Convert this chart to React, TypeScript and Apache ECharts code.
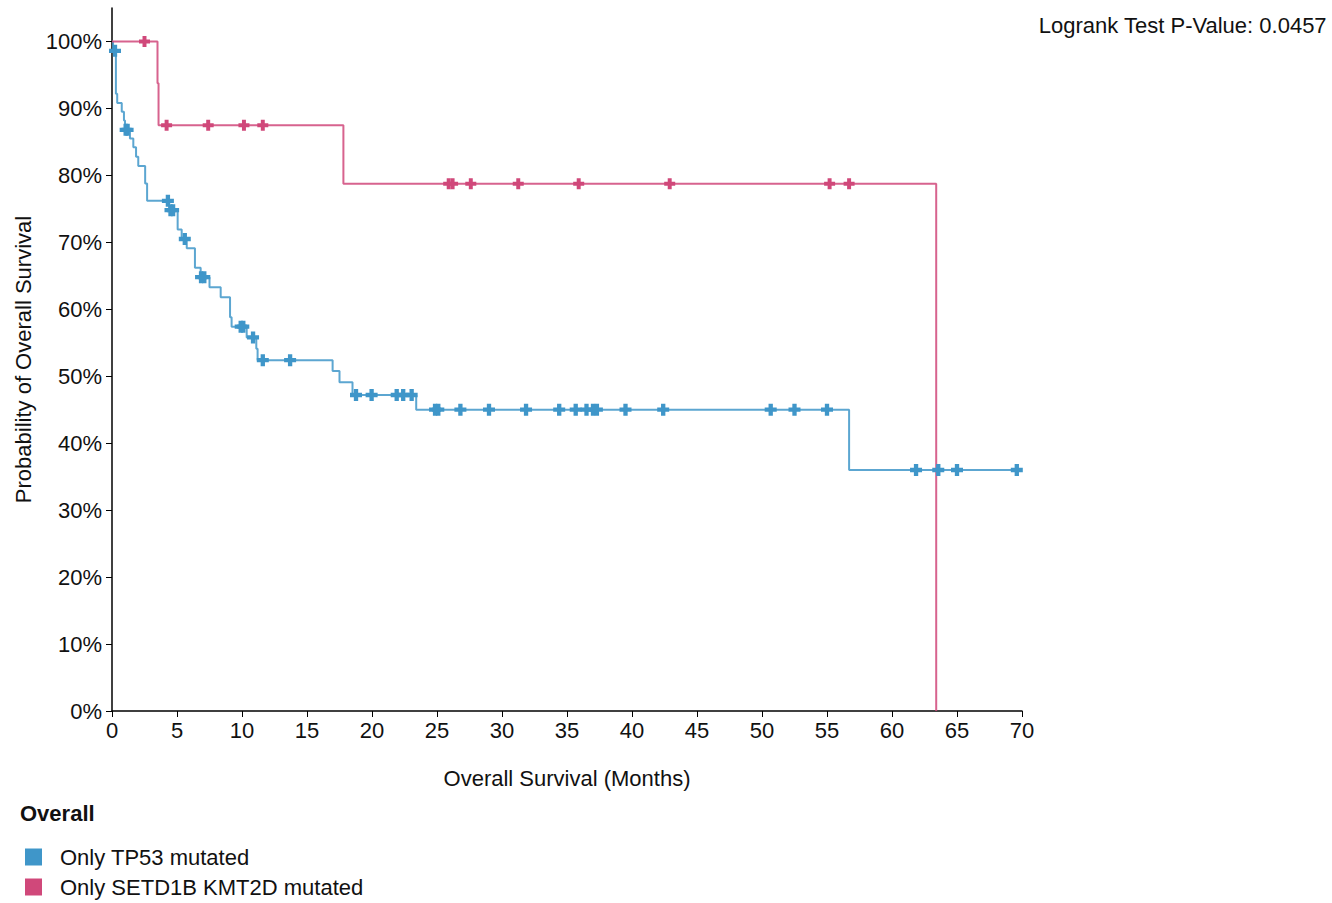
import React, { useEffect, useRef } from "react";
import * as echarts from "echarts";

const seriesNames = ["Only TP53 mutated", "Only SETD1B KMT2D mutated"];
const seriesColors = ["#3f96c9", "#d0487a"];

// Kaplan-Meier steps: [months, survival %] (value holds from that time on)
const tp53Steps: [number, number][] = [
  [0, 100], [0.08, 98.6], [0.3, 92.2], [0.4, 90.8], [0.75, 89.5], [0.92, 88.2],
  [1.0, 86.8], [1.38, 85.5], [1.64, 84.2], [1.85, 82.8], [2.02, 81.4],
  [2.55, 78.8], [2.7, 76.2], [4.4, 74.8], [5.05, 71.9], [5.36, 70.5],
  [5.75, 69.1], [6.38, 66.2], [6.82, 64.8], [7.5, 63.3], [8.36, 61.8],
  [9.08, 58.8], [9.2, 57.4], [10.36, 55.8], [11.1, 54.1], [11.2, 52.4],
  [16.97, 50.8], [17.5, 49.1], [18.5, 47.2], [23.4, 45.0], [56.7, 36.0],
  [69.6, 36.0],
];
const tp53Censored: [number, number][] = [
  [0.23, 98.6], [1.05, 86.8], [1.2, 86.8], [4.3, 76.2], [4.5, 74.8], [4.7, 74.8],
  [5.6, 70.5], [6.85, 64.8], [7.1, 64.8], [9.9, 57.4], [10.1, 57.4],
  [10.85, 55.8], [11.6, 52.4], [13.7, 52.4], [18.77, 47.2], [19.97, 47.2],
  [21.9, 47.2], [22.4, 47.2], [23.05, 47.2], [24.85, 45], [25.1, 45],
  [26.8, 45], [29.0, 45], [31.85, 45], [34.4, 45], [35.67, 45], [36.5, 45],
  [37.0, 45], [37.3, 45], [39.5, 45], [42.4, 45], [50.67, 45], [52.5, 45],
  [55.0, 45], [61.85, 36], [63.56, 36], [65.0, 36], [69.6, 36],
];
const setd1bSteps: [number, number][] = [
  [0, 100], [3.5, 93.75], [3.58, 87.5], [17.8, 78.75], [63.4, 0],
];
const setd1bCensored: [number, number][] = [
  [2.5, 100], [4.2, 87.5], [7.4, 87.5], [10.15, 87.5], [11.6, 87.5],
  [25.9, 78.75], [26.2, 78.75], [27.6, 78.75], [31.25, 78.75], [35.9, 78.75],
  [42.9, 78.75], [55.2, 78.75], [56.7, 78.75],
];
const yTicks = [0, 10, 20, 30, 40, 50, 60, 70, 80, 90, 100];
const pValueText = "Logrank Test P-Value: 0.0457";
const legendTitle = "Overall";

const FONT = "'Liberation Sans', Arial, Helvetica, sans-serif";
const FS = 22;
const PLUS = "path://M3.2,0H6.8V3.2H10V6.8H6.8V10H3.2V6.8H0V3.2H3.2Z";

export default function App() {
  const ref = useRef<HTMLDivElement>(null);
  useEffect(() => {
    if (!ref.current) return;
    const chart = echarts.init(ref.current, null, { renderer: "svg" });
    const lineSeries = (name: string, data: [number, number][], color: string) => ({
      name,
      type: "line",
      step: "end",
      data,
      showSymbol: false,
      symbol: "none",
      color,
      lineStyle: { width: 2, color, opacity: 0.85 },
      z: 2,
    });
    const censorSeries = (name: string, data: [number, number][], color: string, size: number) => ({
      name: name + " (censored)",
      type: "scatter",
      data,
      symbol: PLUS,
      symbolSize: size,
      itemStyle: { color, opacity: 1 },
      z: 3,
    });
    chart.setOption({
      animation: false,
      textStyle: { fontFamily: FONT },
      grid: { left: 112, right: 310, top: 8, bottom: 192, containLabel: false },
      xAxis: {
        type: "value",
        min: 0,
        max: 70,
        interval: 5,
        name: "Overall Survival (Months)",
        nameLocation: "middle",
        nameGap: 56,
        nameTextStyle: { fontSize: FS, color: "#111", fontFamily: FONT },
        axisLine: { lineStyle: { color: "#000", width: 1.5 } },
        axisTick: { show: true, length: 6, lineStyle: { color: "#000" } },
        axisLabel: { fontSize: FS, color: "#111", margin: 8, fontFamily: FONT },
        splitLine: { show: false },
      },
      yAxis: {
        type: "value",
        min: 0,
        max: 105,
        name: "Probability of Overall Survival",
        nameLocation: "middle",
        nameGap: 76,
        nameRotate: 90,
        nameTextStyle: { fontSize: FS, color: "#111", fontFamily: FONT },
        axisLine: { show: true, lineStyle: { color: "#000", width: 1.5 } },
        axisTick: { show: true, length: 6, lineStyle: { color: "#000" }, customValues: yTicks },
        axisLabel: {
          fontSize: FS,
          color: "#111",
          margin: 10,
          fontFamily: FONT,
          customValues: yTicks,
          formatter: (v: number) => `${v}%`,
        },
        splitLine: { show: false },
      },
      legend: {
        data: seriesNames.map((n, i) => ({ name: n, itemStyle: { color: seriesColors[i] } })),
        orient: "vertical",
        left: 25,
        top: 846,
        icon: "rect",
        itemWidth: 17,
        itemHeight: 17,
        itemGap: 8,
        padding: 0,
        selectedMode: false,
        textStyle: { fontSize: FS, color: "#111", fontFamily: FONT, padding: [0, 0, 0, 13] },
      },
      graphic: [
        {
          type: "text",
          right: 5,
          top: 14,
          style: { text: pValueText, font: `${FS}px ${FONT}`, fill: "#111" },
        },
        {
          type: "text",
          left: 20,
          top: 802,
          style: { text: legendTitle, font: `bold ${FS}px ${FONT}`, fill: "#111" },
        },
      ],
      series: [
        lineSeries(seriesNames[0], tp53Steps, seriesColors[0]),
        lineSeries(seriesNames[1], setd1bSteps, seriesColors[1]),
        censorSeries(seriesNames[0], tp53Censored, seriesColors[0], 12),
        censorSeries(seriesNames[1], setd1bCensored, seriesColors[1], 11),
      ],
    });
    return () => chart.dispose();
  }, []);
  return (
    <div
      ref={ref}
      style={{ position: "fixed", left: 0, top: 0, width: 1332, height: 903, background: "#fff" }}
    />
  );
}
